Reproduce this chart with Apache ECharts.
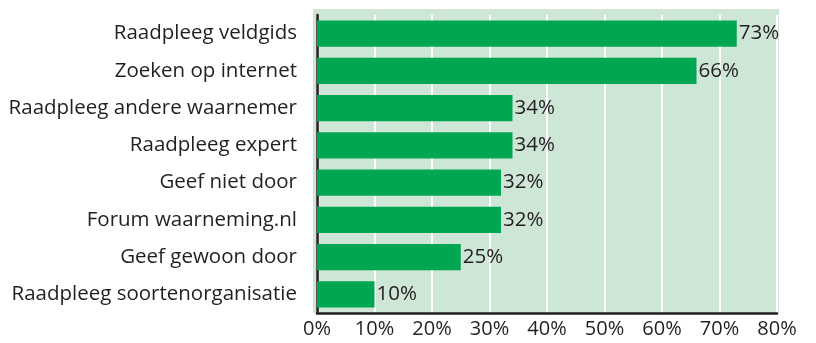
<!DOCTYPE html>
<html>
<head>
<meta charset="utf-8">
<script src="https://cdn.jsdelivr.net/npm/echarts@6/dist/echarts.min.js"></script>
<style>
html,body{margin:0;padding:0;background:#fff;}
#c{width:816px;height:343px;}
</style>
</head>
<body>
<div id="c"></div>
<script>
const categories = [
  "Raadpleeg veldgids",
  "Zoeken op internet",
  "Raadpleeg andere waarnemer",
  "Raadpleeg expert",
  "Geef niet door",
  "Forum waarneming.nl",
  "Geef gewoon door",
  "Raadpleeg soortenorganisatie"
];
const values = [73, 66, 34, 34, 32, 32, 25, 10];
const xTicks = [0, 10, 20, 30, 40, 50, 60, 70, 80];

const FONT = "'Open Sans', 'Noto Sans', sans-serif";
const TEXT = "#231f20";

const chart = echarts.init(document.getElementById('c'), null, {renderer: 'canvas'});
chart.setOption({
  animation: false,
  backgroundColor: '#ffffff',
  grid: { left: 317, right: 39, top: 15, bottom: 30, containLabel: false },
  graphic: [{
    type: 'rect',
    z: -10,
    silent: true,
    shape: { x: 313, y: 9, width: 466, height: 304 },
    style: { fill: '#cde6d6' }
  }],
  xAxis: {
    type: 'value',
    min: xTicks[0],
    max: xTicks[xTicks.length - 1],
    interval: 10,
    axisLine: { show: true, lineStyle: { color: TEXT, width: 2.5 } },
    axisTick: { show: false },
    splitLine: { show: true, lineStyle: { color: '#ffffff', width: 2 } },
    axisLabel: {
      color: TEXT, fontFamily: FONT, fontSize: 20, margin: 6,
      formatter: v => v + '%'
    }
  },
  yAxis: {
    type: 'category',
    data: categories,
    inverse: true,
    offset: 4,
    axisLine: { show: true, lineStyle: { color: TEXT, width: 2.5 } },
    axisTick: { show: false },
    splitLine: { show: false },
    axisLabel: { color: TEXT, fontFamily: FONT, fontSize: 20.5, margin: 16 }
  },
  series: [{
    type: 'bar',
    data: values,
    barCategoryGap: '30%',
    itemStyle: { color: '#00a651' },
    z: 3,
    label: {
      show: true, position: 'right', distance: 2,
      color: TEXT, fontFamily: FONT, fontSize: 20.5,
      formatter: p => p.value + '%'
    }
  }]
});
</script>
</body>
</html>
